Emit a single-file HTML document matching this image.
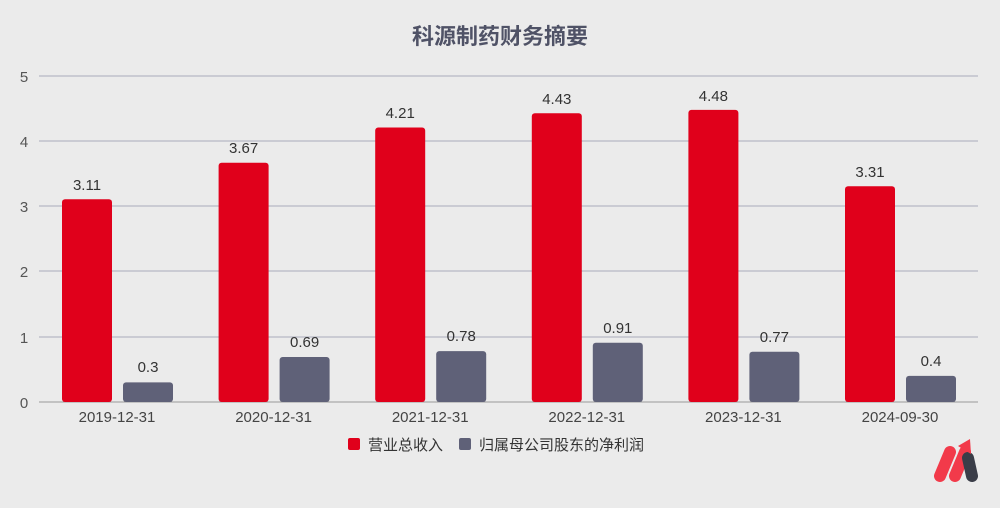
<!DOCTYPE html>
<html><head><meta charset="utf-8"><style>
body{margin:0;background:#ebebeb;}
svg{display:block;font-family:"Liberation Sans","Noto Sans CJK SC",sans-serif;}
</style></head><body>
<svg width="1000" height="508" viewBox="0 0 1000 508">
<rect width="1000" height="508" fill="#ebebeb"/>
<text x="500" y="44" text-anchor="middle" font-size="22" font-weight="bold" fill="#4f5266">科源制药财务摘要</text>
<g stroke="#a9abbb" stroke-width="1">
<line x1="39" y1="76" x2="978" y2="76"/><line x1="39" y1="141" x2="978" y2="141"/>
<line x1="39" y1="206" x2="978" y2="206"/><line x1="39" y1="271" x2="978" y2="271"/>
<line x1="39" y1="337" x2="978" y2="337"/><line x1="39" y1="402" x2="978" y2="402" stroke="#999"/>
</g>
<g font-size="15" fill="#555" text-anchor="middle">
<text x="24" y="82">5</text><text x="24" y="147">4</text><text x="24" y="212">3</text>
<text x="24" y="277">2</text><text x="24" y="343">1</text><text x="24" y="408">0</text>
</g>
<g font-size="15" fill="#333" text-anchor="middle">
<rect x="62" y="199.2" width="50" height="202.8" rx="3" fill="#e0001b"/><text x="87" y="190">3.11</text>
<rect x="123" y="382.4" width="50" height="19.6" rx="3" fill="#5f6178"/><text x="148" y="372">0.3</text>
<rect x="218.6" y="162.7" width="50" height="239.3" rx="3" fill="#e0001b"/><text x="243.6" y="153">3.67</text>
<rect x="279.6" y="357" width="50" height="45" rx="3" fill="#5f6178"/><text x="304.6" y="347">0.69</text>
<rect x="375.2" y="127.5" width="50" height="274.5" rx="3" fill="#e0001b"/><text x="400.2" y="118">4.21</text>
<rect x="436.2" y="351.1" width="50" height="50.9" rx="3" fill="#5f6178"/><text x="461.2" y="341">0.78</text>
<rect x="531.8" y="113.2" width="50" height="288.8" rx="3" fill="#e0001b"/><text x="556.8" y="104">4.43</text>
<rect x="592.8" y="342.7" width="50" height="59.3" rx="3" fill="#5f6178"/><text x="617.8" y="333">0.91</text>
<rect x="688.4" y="109.9" width="50" height="292.1" rx="3" fill="#e0001b"/><text x="713.4" y="101">4.48</text>
<rect x="749.4" y="351.8" width="50" height="50.2" rx="3" fill="#5f6178"/><text x="774.4" y="342">0.77</text>
<rect x="845" y="186.2" width="50" height="215.8" rx="3" fill="#e0001b"/><text x="870" y="177">3.31</text>
<rect x="906" y="375.9" width="50" height="26.1" rx="3" fill="#5f6178"/><text x="931" y="366">0.4</text>
</g>
<g font-size="15" fill="#444" text-anchor="middle">
<text x="117" y="422">2019-12-31</text><text x="273.6" y="422">2020-12-31</text>
<text x="430.2" y="422">2021-12-31</text><text x="586.8" y="422">2022-12-31</text>
<text x="743.4" y="422">2023-12-31</text><text x="900" y="422">2024-09-30</text>
</g>
<rect x="348" y="438" width="12" height="12" rx="2" fill="#e0001b"/>
<text x="368" y="450" font-size="15" fill="#333">营业总收入</text>
<rect x="459" y="438" width="12" height="12" rx="2" fill="#5f6178"/>
<text x="479" y="450" font-size="15" fill="#333">归属母公司股东的净利润</text>
<g stroke-linecap="round" stroke-width="12" fill="none">
<line x1="940" y1="476" x2="950" y2="452" stroke="#f23a4a"/>
<line x1="955" y1="476" x2="965" y2="452" stroke="#f23a4a"/>
<line x1="972" y1="476" x2="968" y2="458" stroke="#3a3d48"/>
</g>
<polygon points="958,446 970,439 971,454" fill="#f23a4a"/>
</svg>
</body></html>
